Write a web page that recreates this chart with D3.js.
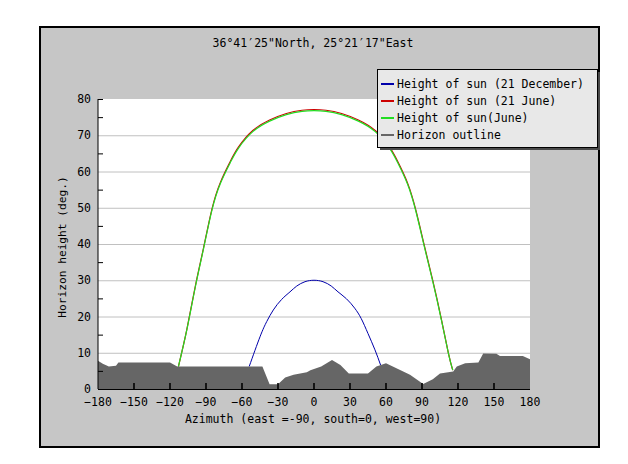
<!DOCTYPE html>
<html><head><meta charset="utf-8">
<script src="https://cdn.jsdelivr.net/npm/d3@7"></script>
<style>body{margin:0;background:#fff}svg{display:block}text{font-family:"DejaVu Sans Mono",monospace;fill:#000}</style>
</head><body>
<svg id="c" width="628" height="464"></svg>
<script>
const title = "36°41′25\"North, 25°21′17\"East";
const xTicks = [-180,-150,-120,-90,-60,-30,0,30,60,90,120,150,180];
const yTicks = [0,10,20,30,40,50,60,70,80];
const xLabel = "Azimuth (east =-90, south=0, west=90)";
const yLabel = "Horizon height (deg.)";
const seriesNames = ["Height of sun (21 December)","Height of sun (21 June)","Height of sun(June)","Horizon outline"];
const seriesColors = ["#0000aa","#cc0000","#22dd22","#666666"];

const decAz = [-54,-45,-39.4,-33.9,-27,-20,-14.4,-7.5,0,7.5,14.4,20,27,33.9,39.4,45,50.8,55.5];
const decH  = [6.2,14.4,18.6,21.8,24.7,26.8,28.4,29.6,30.0,29.6,28.4,26.8,24.9,22.3,19.4,15.3,10.8,6.6];

const junAz = [-113,-106,-99,-92,-85,-78,-70,-63,-51,-37,-23,-10,0,10,23,37,51,63,70,78,85,92,99,106,112,115.6];
const junH  = [6.2,16.3,28,38.8,49.4,56.7,62.3,66.4,71.0,73.9,75.7,76.6,76.8,76.6,75.7,73.9,71.0,66.4,62.3,56.5,48.9,39.2,29.6,19.3,9.8,5.2];
const jun21H= [6.2,16.4,28.2,39.0,49.7,57.0,62.6,66.7,71.3,74.2,76.0,76.9,77.1,76.9,76.0,74.2,71.3,66.7,62.6,56.8,49.2,39.5,29.9,19.5,9.9,5.2];

const horAz = [-180,-176,-171,-165,-163,-120,-114,-43,-37,-30,-24,-17,-6,-3,6,15,22,29,45,52,60,70,80,91,99,105,116,119,126,137,141,152,155,174,180];
const horH  = [7.8,7.0,6.2,6.4,7.3,7.3,6.2,6.2,1.3,1.3,3.2,3.9,4.6,5.2,6.2,8.0,6.6,4.3,4.3,6.2,7.1,5.5,3.9,1.4,2.7,4.3,4.8,6.2,7.1,7.3,9.8,9.7,9.1,9.1,8.2];

const svg = d3.select("#c");
svg.append("rect").attr("x",40).attr("y",27).attr("width",559).attr("height",420)
  .attr("fill","#c6c6c6").attr("stroke","#000").attr("stroke-width",2);

const x = d3.scaleLinear().domain([-180,180]).range([98,530]);
const y = d3.scaleLinear().domain([0,80]).range([389,99]);

svg.append("rect").attr("x",x(-180)).attr("y",y(80)).attr("width",x(180)-x(-180)).attr("height",y(0)-y(80)).attr("fill","#fff");

svg.append("g").selectAll("line").data(yTicks.filter(d=>d>0&&d<80)).join("line")
  .attr("x1",x(-180)).attr("x2",x(180)).attr("y1",d=>y(d)+0.5).attr("y2",d=>y(d)+0.5)
  .attr("stroke","#c0c0c0").attr("stroke-width",1);

const line = (az,h)=>d3.line().x((d,i)=>x(az[i])).y(d=>y(d)).curve(d3.curveNatural)(h);

svg.append("path").attr("d",line(junAz,jun21H)).attr("fill","none").attr("stroke",seriesColors[1]).attr("stroke-width",1.2);
svg.append("path").attr("d",line(junAz,junH)).attr("fill","none").attr("stroke",seriesColors[2]).attr("stroke-width",1.2);
svg.append("path").attr("d",line(decAz,decH)).attr("fill","none").attr("stroke",seriesColors[0]).attr("stroke-width",1);

const area = d3.area().x((d,i)=>x(horAz[i])).y0(y(0)).y1(d=>y(d));
svg.append("path").attr("d",area(horH)).attr("fill",seriesColors[3]);

svg.append("line").attr("x1",x(-180)).attr("x2",x(-180)).attr("y1",y(80)).attr("y2",y(0)).attr("stroke","#000");
svg.append("line").attr("x1",x(-180)).attr("x2",x(180)).attr("y1",y(0)+0.5).attr("y2",y(0)+0.5).attr("stroke","#000");
svg.append("line").attr("x1",x(-180)).attr("x2",x(-180)+5).attr("y1",y(80)+0.5).attr("y2",y(80)+0.5).attr("stroke","#000");

svg.append("g").selectAll("line").data(d3.range(5,80,10)).join("line")
  .attr("x1",x(-180)).attr("x2",x(-180)+5).attr("y1",d=>y(d)+0.5).attr("y2",d=>y(d)+0.5).attr("stroke","#000");
svg.append("g").selectAll("line").data(xTicks.slice(1,-1)).join("line")
  .attr("x1",d=>x(d)).attr("x2",d=>x(d)).attr("y1",y(0)).attr("y2",y(0)-6).attr("stroke","#000").attr("stroke-width",1.6);

svg.append("g").selectAll("text").data(xTicks).join("text")
  .attr("x",d=>x(d)).attr("y",406).attr("text-anchor","middle").attr("font-size","11.5px")
  .text(d=>String(d).replace("-","−"));
svg.append("g").selectAll("text").data(yTicks).join("text")
  .attr("x",91).attr("y",d=>y(d)+4).attr("text-anchor","end").attr("font-size","11.5px").text(d=>d);

svg.append("text").attr("x",313).attr("y",423).attr("text-anchor","middle").attr("font-size","11.5px").text(xLabel);
svg.append("text").attr("transform","translate(66,247) rotate(-90)").attr("text-anchor","middle").attr("font-size","11.2px").text(yLabel);
svg.append("text").attr("x",313).attr("y",47).attr("text-anchor","middle").attr("font-size","11.5px").text(title);

const lg = svg.append("g");
lg.append("rect").attr("x",380).attr("y",72).attr("width",220).attr("height",78).attr("fill","#4a4a4a");
lg.append("rect").attr("x",377.5).attr("y",69.5).attr("width",220).attr("height",78).attr("fill","#e8e8e8").attr("stroke","#000");
seriesNames.forEach((n,i)=>{
  const yy = 84 + i*17;
  lg.append("line").attr("x1",381).attr("x2",394).attr("y1",yy).attr("y2",yy).attr("stroke",seriesColors[i]).attr("stroke-width",2);
  lg.append("text").attr("x",397).attr("y",yy+4).attr("font-size","11.5px").text(n);
});
</script>
</body></html>
